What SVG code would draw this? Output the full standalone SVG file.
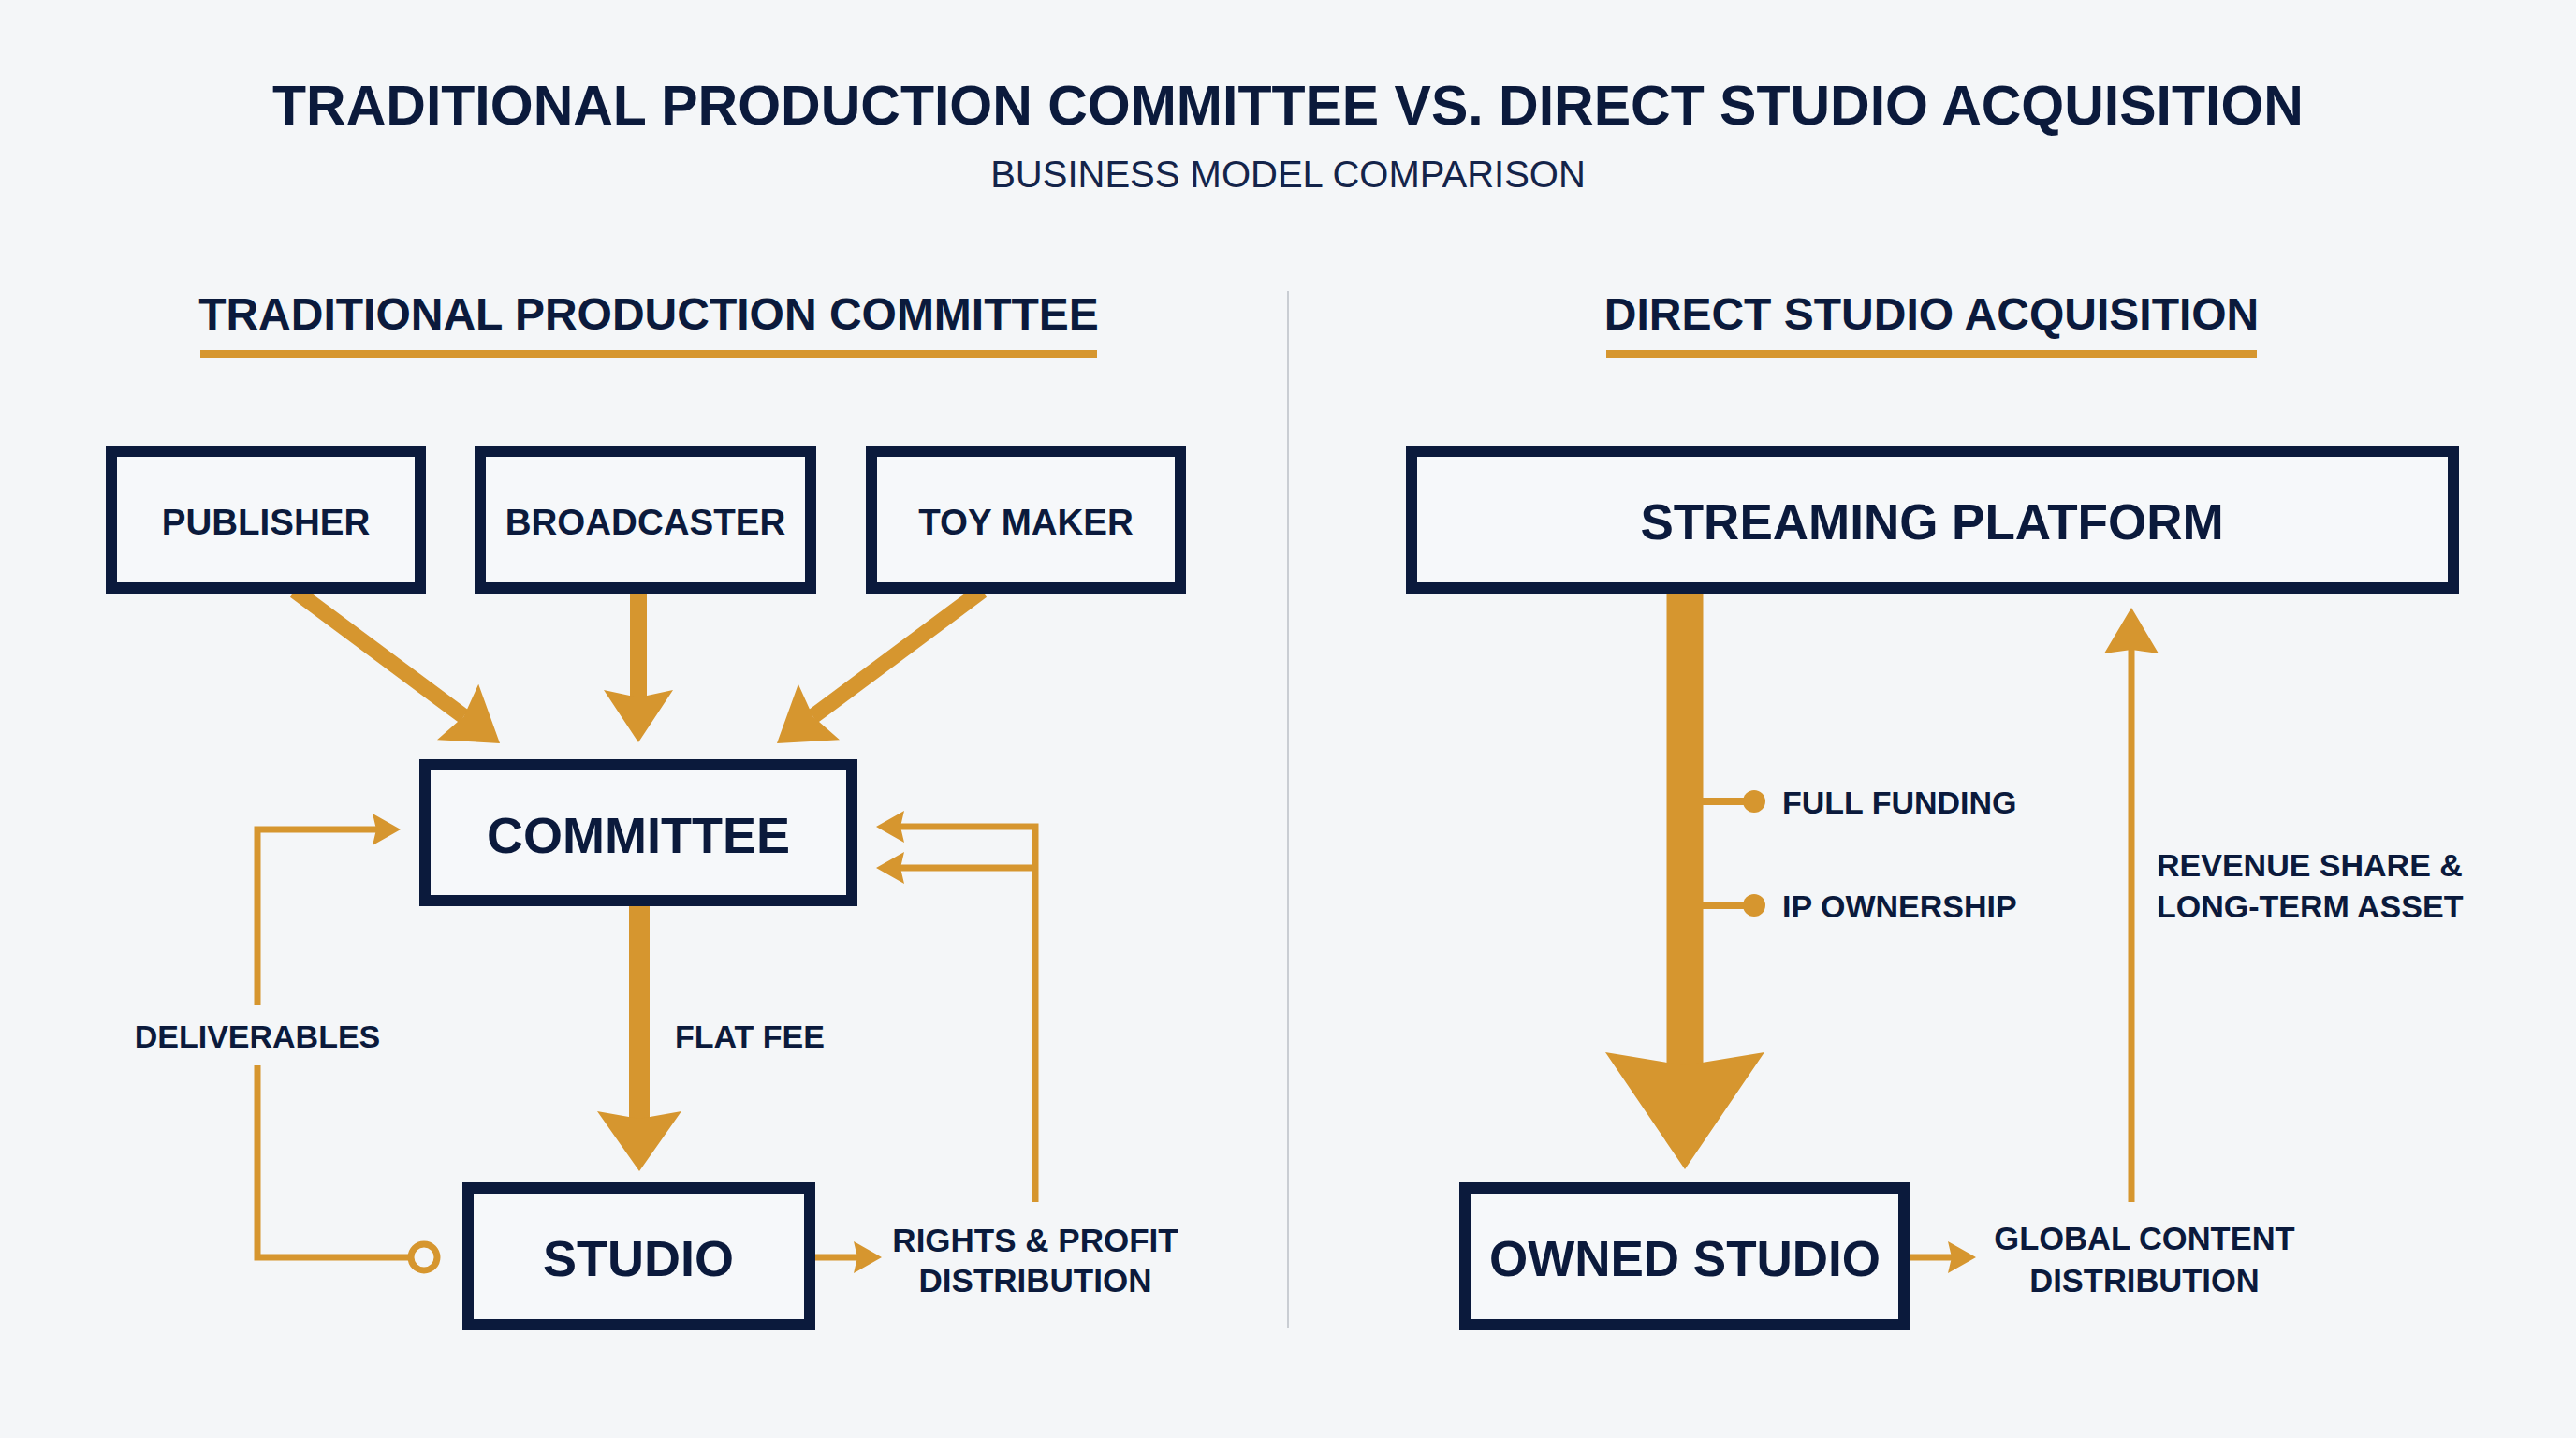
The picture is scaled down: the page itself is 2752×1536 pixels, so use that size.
<svg xmlns="http://www.w3.org/2000/svg" width="2752" height="1536" viewBox="0 0 2752 1536">
<style>
.bg{fill:#F4F6F8}
.box{fill:#F6F8FA;stroke:#0B1A3C;stroke-width:12}
.t{font-family:"Liberation Sans",Arial,sans-serif;font-weight:bold;fill:#0B1A3C}
.c{text-anchor:middle}
.gold{stroke:#D6962F;fill:none}
.thin{stroke:#D6962F;fill:none;stroke-width:7}
</style>
<defs>
<marker id="hBig" markerUnits="userSpaceOnUse" orient="auto" viewBox="-10 -40 60 80" refX="0" refY="0" markerWidth="60" markerHeight="80"><path d="M48,0 L-8,-37 L0,0 L-8,37 Z" fill="#D6962F"/></marker>
<marker id="hMid" markerUnits="userSpaceOnUse" orient="auto" viewBox="-10 -48 70 96" refX="0" refY="0" markerWidth="70" markerHeight="96"><path d="M56,0 L-8,-45 L0,0 L-8,45 Z" fill="#D6962F"/></marker>
<marker id="hHuge" markerUnits="userSpaceOnUse" orient="auto" viewBox="-16 -88 130 176" refX="0" refY="0" markerWidth="130" markerHeight="176"><path d="M111,0 L-14,-85 L0,0 L-14,85 Z" fill="#D6962F"/></marker>
<marker id="hSm" markerUnits="userSpaceOnUse" orient="auto" viewBox="-6 -20 34 40" refX="0" refY="0" markerWidth="34" markerHeight="40"><path d="M26,0 L-4,-17 L0,0 L-4,17 Z" fill="#D6962F"/></marker>
<marker id="hUp" markerUnits="userSpaceOnUse" orient="auto" viewBox="-6 -32 54 64" refX="0" refY="0" markerWidth="54" markerHeight="64"><path d="M45,0 L-4,-29 L0,0 L-4,29 Z" fill="#D6962F"/></marker>
</defs>
<rect class="bg" x="0" y="0" width="2752" height="1536"/>

<g id="titles">
<text class="t c" x="1376" y="133" font-size="59">TRADITIONAL PRODUCTION COMMITTEE VS. DIRECT STUDIO ACQUISITION</text>
<text class="c" x="1376" y="200" font-size="40" font-family="Liberation Sans, Arial, sans-serif" fill="#14244A">BUSINESS MODEL COMPARISON</text>
<text class="t c" x="693" y="352" font-size="48">TRADITIONAL PRODUCTION COMMITTEE</text>
<rect x="214" y="374" width="958" height="8" fill="#D6962F"/>
<text class="t c" x="2063.5" y="352" font-size="48">DIRECT STUDIO ACQUISITION</text>
<rect x="1716" y="374" width="695" height="8" fill="#D6962F"/>
<line x1="1376" y1="311" x2="1376" y2="1418" stroke="#C9CDD3" stroke-width="2"/>
</g>

<g id="connectors">
<line class="gold" x1="315" y1="631" x2="495.5" y2="765.3" stroke-width="17" marker-end="url(#hBig)"/>
<line class="gold" x1="682" y1="632" x2="682" y2="745" stroke-width="18" marker-end="url(#hBig)"/>
<line class="gold" x1="1049" y1="631" x2="868.5" y2="765.3" stroke-width="17" marker-end="url(#hBig)"/>
<line class="gold" x1="683" y1="966" x2="683" y2="1195" stroke-width="22" marker-end="url(#hMid)"/>
<line class="thin" x1="871" y1="1343" x2="916" y2="1343" stroke-width="8" marker-end="url(#hSm)"/>
<path class="thin" d="M1106,1284 V883 H962" marker-end="url(#hSm)"/>
<path class="thin" d="M1106,927 H962" marker-end="url(#hSm)"/>
<path class="thin" d="M436,1343 H275 V1138"/>
<path class="thin" d="M275,1074 V886 H402" marker-end="url(#hSm)"/>
<circle cx="453" cy="1343" r="14" fill="#F4F6F8" stroke="#D6962F" stroke-width="7"/>
<line class="gold" x1="1800" y1="632" x2="1800" y2="1138" stroke-width="39" marker-end="url(#hHuge)"/>
<line class="gold" x1="1819" y1="856" x2="1866" y2="856" stroke-width="8"/>
<circle cx="1874" cy="856" r="12" fill="#D6962F"/>
<line class="gold" x1="1819" y1="967" x2="1866" y2="967" stroke-width="8"/>
<circle cx="1874" cy="967" r="12" fill="#D6962F"/>
<line class="thin" x1="2277" y1="1284" x2="2277" y2="694" marker-end="url(#hUp)"/>
<line class="thin" x1="2040" y1="1343" x2="2085" y2="1343" stroke-width="8" marker-end="url(#hSm)"/>
</g>

<g id="labels">
<text class="t c" x="275" y="1119" font-size="34">DELIVERABLES</text>
<text class="t" x="721" y="1119" font-size="34">FLAT FEE</text>
<text class="t c" x="1106" y="1337" font-size="35">RIGHTS &amp; PROFIT</text>
<text class="t c" x="1106" y="1380" font-size="35">DISTRIBUTION</text>
<text class="t" x="1904" y="869" font-size="34">FULL FUNDING</text>
<text class="t" x="1904" y="980" font-size="34">IP OWNERSHIP</text>
<text class="t" x="2304" y="936" font-size="34">REVENUE SHARE &amp;</text>
<text class="t" x="2304" y="980" font-size="34">LONG-TERM ASSET</text>
<text class="t c" x="2291" y="1335" font-size="34.5">GLOBAL CONTENT</text>
<text class="t c" x="2291" y="1380" font-size="34.5">DISTRIBUTION</text>
</g>

<g id="node-publisher">
<rect class="box" x="119" y="482" width="330" height="146"/>
<text class="t c" x="284" y="571" font-size="38.5">PUBLISHER</text>
</g>
<g id="node-broadcaster">
<rect class="box" x="513" y="482" width="353" height="146"/>
<text class="t c" x="689.5" y="571" font-size="38.5">BROADCASTER</text>
</g>
<g id="node-toymaker">
<rect class="box" x="931" y="482" width="330" height="146"/>
<text class="t c" x="1096" y="571" font-size="38.5">TOY MAKER</text>
</g>
<g id="node-committee">
<rect class="box" x="454" y="817" width="456" height="145"/>
<text class="t c" x="682" y="911" font-size="54">COMMITTEE</text>
</g>
<g id="node-studio">
<rect class="box" x="500" y="1269" width="365" height="146"/>
<text class="t c" x="682" y="1363" font-size="54">STUDIO</text>
</g>
<g id="node-streaming">
<rect class="box" x="1508" y="482" width="1113" height="146"/>
<text class="t c" x="2064" y="576" font-size="53">STREAMING PLATFORM</text>
</g>
<g id="node-owned-studio">
<rect class="box" x="1565" y="1269" width="469" height="146"/>
<text class="t c" x="1800" y="1363" font-size="53">OWNED STUDIO</text>
</g>
</svg>
